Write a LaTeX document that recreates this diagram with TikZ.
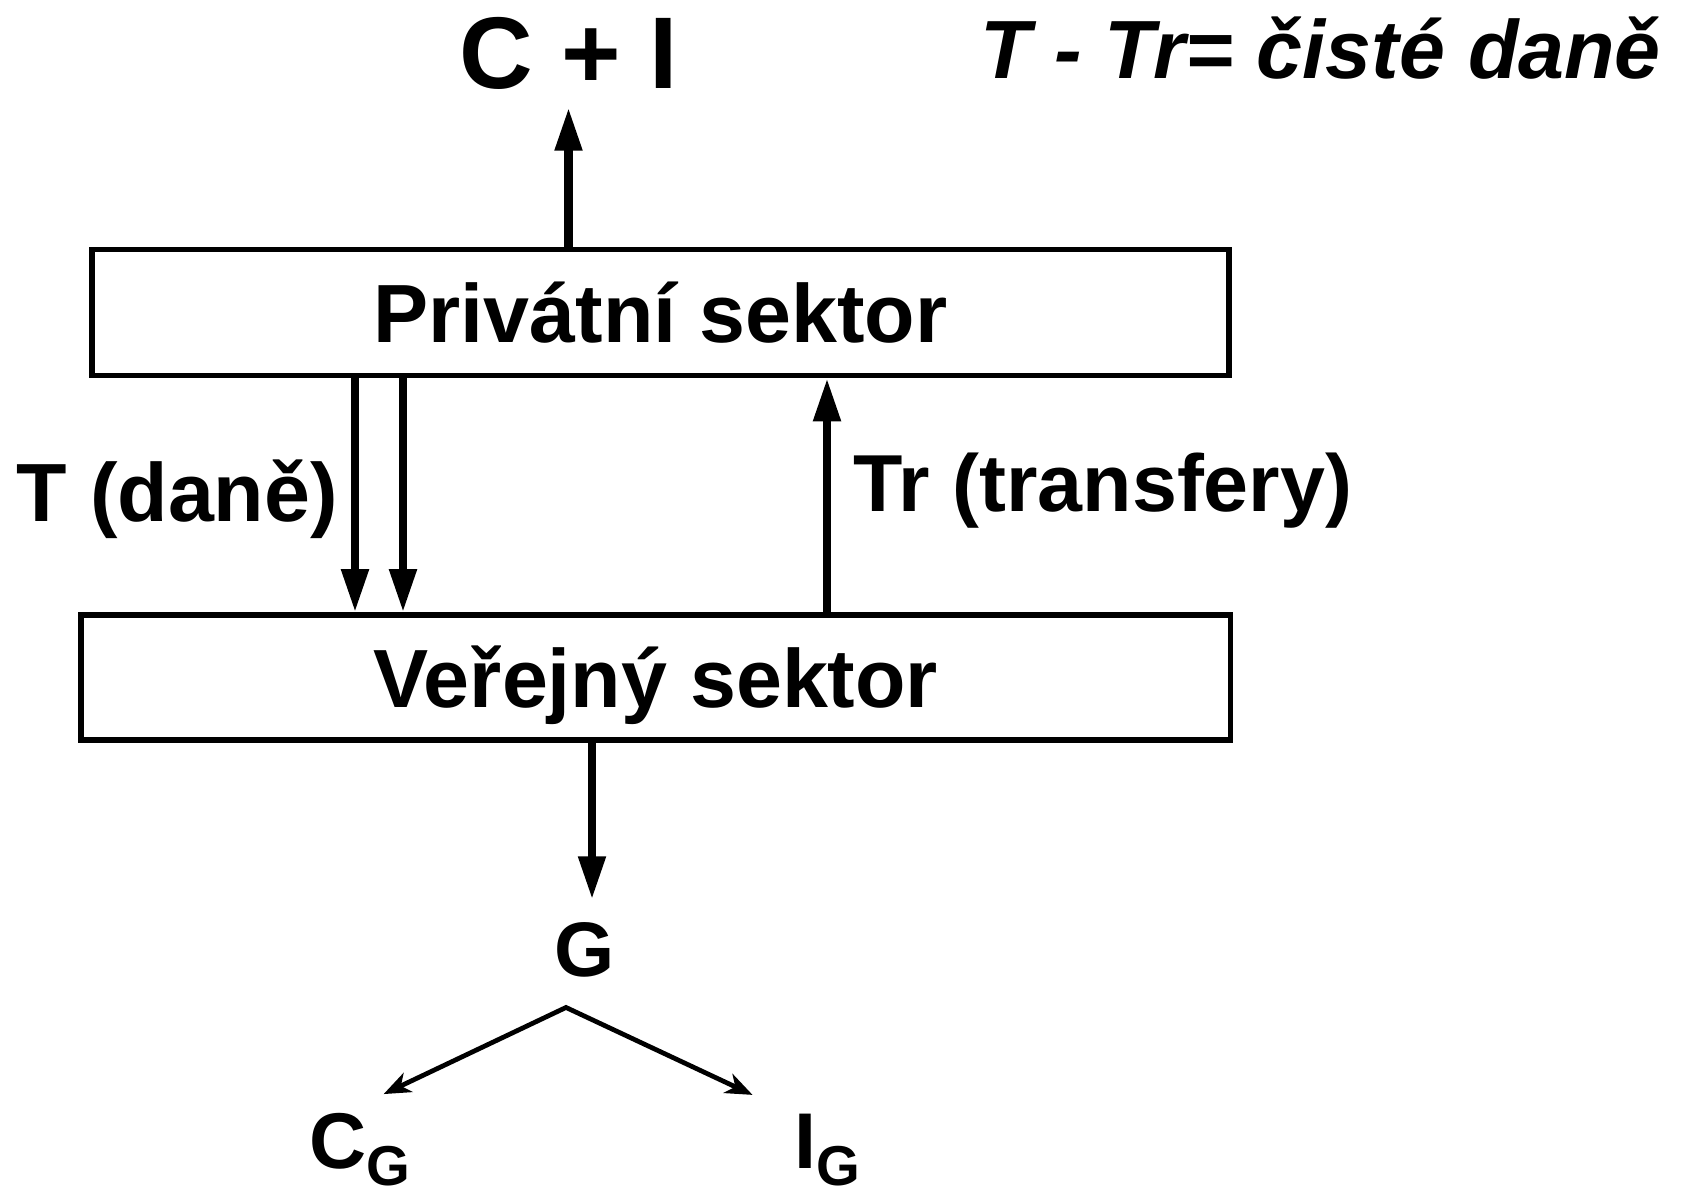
\documentclass[tikz,border=0pt]{standalone}
\usepackage{fontspec}
\setmainfont{Liberation Sans}
\usetikzlibrary{arrows.meta,calc}
\tikzstyle{sector} = [draw,line width=1.6pt,inner sep=0pt,text height=16.8pt,text depth=0pt,font=\fontsize{23.5}{28}\selectfont\bfseries]
\tikzstyle{flowtext} = [inner sep=0pt,font=\fontsize{23.5}{28}\selectfont\bfseries]
\tikzstyle{flow} = [draw,line width=2.3pt,-{Triangle[length=0.43cm,width=0.26cm]}]
\tikzstyle{split} = [draw,line width=1.35pt,{Stealth[length=0.27cm,width=0.21cm,inset=0.08cm]}-{Stealth[length=0.27cm,width=0.21cm,inset=0.08cm]}]
\newcommand{\lowidx}[1]{\raisebox{-5pt}{\fontsize{16}{16}\selectfont #1}}

\begin{document}
\begin{tikzpicture}
    \useasboundingbox (0,0) rectangle (16.81,-11.99);
    % First the two sectors
    \node[sector,minimum width=11.37cm,minimum height=1.26cm] (priv) at (6.605,-3.125) {Privátní sektor};
    \node[sector,minimum width=11.49cm,minimum height=1.25cm] (verej) at (6.558,-6.775) {Veřejný sektor};

    % Then the flows and the totals
    \node[flowtext,font=\fontsize{29}{34}\selectfont\bfseries,anchor=base] (cpi) at (5.685,-0.89) {C + I};
    \node[flowtext,font=\fontsize{23.5}{28}\selectfont\bfseries\itshape,anchor=base west] (netto) at (9.80,-0.79) {T - Tr= čisté daně};
    \node[flowtext,anchor=base west] (dane) at (0.16,-5.22) {T (daně)};
    \node[flowtext,font=\fontsize{23}{28}\selectfont\bfseries,anchor=base west] (transf) at (8.53,-5.12) {Tr (transfery)};
    \node[flowtext,font=\fontsize{22}{26}\selectfont\bfseries,anchor=base] (G) at (5.845,-9.76) {G};
    \node[flowtext,font=\fontsize{22.5}{26}\selectfont\bfseries,anchor=base west] (cg) at (3.09,-11.68) {C\lowidx{G}};
    \node[flowtext,font=\fontsize{22.5}{26}\selectfont\bfseries,anchor=base west] (ig) at (7.94,-11.68) {I\lowidx{G}};

    % Connect them with arrows
    \draw[flow,shorten >=0.17cm] (priv.north -| cpi) -- (cpi.south);
    \foreach \x in {3.55,4.03}
        \draw[flow] (\x,0 |- priv.south) -- (\x,0 |- verej.north);
    \draw[flow] (8.27,0 |- verej.north) -- (8.27,0 |- priv.south);
    \draw[flow,shorten >=0.22cm] (5.92,0 |- verej.south) -- (5.92,0 |- G.north);

    % G splits in two
    \coordinate (fork) at ($(G.south)+(-0.185,-0.30)$);
    \draw[split] ($(cg.north)+(0.235,0.18)$) -- (fork) -- ($(ig.north)+(-0.75,0.18)$);
\end{tikzpicture}
\end{document}
